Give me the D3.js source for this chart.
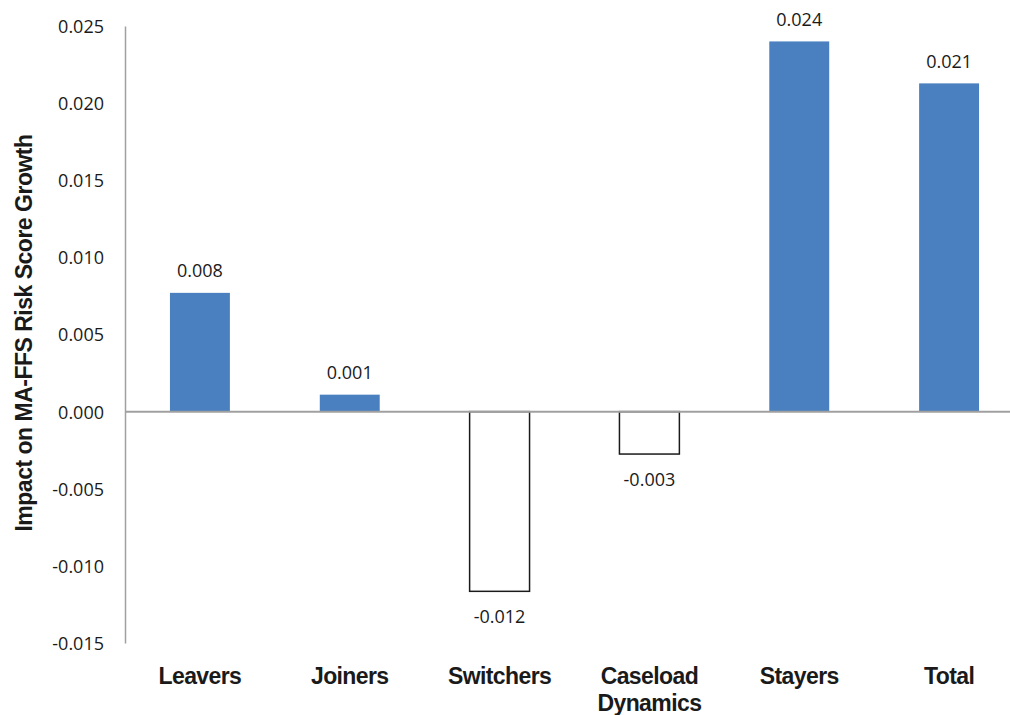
<!DOCTYPE html>
<html>
<head>
<meta charset="utf-8">
<script src="https://cdn.jsdelivr.net/npm/d3@7"></script>
<style>
  html, body { margin: 0; padding: 0; background: #fff; }
  svg { display: block; }
</style>
</head>
<body>
<svg id="chart" width="1010" height="715"></svg>
<script>
// Decomposition of MA-FFS risk score growth by component
const categories = ["Leavers", "Joiners", "Switchers", "Caseload Dynamics", "Stayers", "Total"];
const categoryLines = [["Leavers"], ["Joiners"], ["Switchers"], ["Caseload", "Dynamics"], ["Stayers"], ["Total"]];
const impacts = [0.0077, 0.0011, -0.01165, -0.00275, 0.0240, 0.02128];
const yTicks = [-0.015, -0.010, -0.005, 0.000, 0.005, 0.010, 0.015, 0.020, 0.025];
const yTitle = "Impact on MA-FFS Risk Score Growth";

const svg = d3.select("#chart");
const W = 1010;

const x = d3.scaleBand()
  .domain(categories)
  .range([125, 1024])
  .paddingInner(0.6)
  .paddingOuter(0.3);

const y = d3.scaleLinear()
  .domain([-0.015, 0.025])
  .range([643, 26]);

// plain hyphen for negative numbers
const locale = d3.formatLocale({ decimal: ".", thousands: ",", grouping: [3], currency: ["$", ""], minus: "-" });
const fmt = locale.format(".3f");

// value axis
const yAxis = svg.append("g")
  .attr("transform", "translate(125,0)")
  .call(d3.axisLeft(y).tickValues(yTicks).tickFormat(fmt).tickSize(0).tickPadding(21));
yAxis.select(".domain").attr("stroke", "#a0a0a0").attr("stroke-width", 1.5);
yAxis.selectAll("text")
  .attr("font-family", "'Open Sans', 'Noto Sans', sans-serif")
  .attr("font-size", 18)
  .attr("fill", "#1a1a1a")
  .attr("dy", "0.36em");

// bars
const bars = svg.append("g");
categories.forEach((c, i) => {
  const v = impacts[i];
  const y0 = y(Math.max(0, v));
  const h = Math.abs(y(v) - y(0));
  if (v >= 0) {
    bars.append("rect")
      .attr("x", x(c)).attr("y", y0)
      .attr("width", x.bandwidth()).attr("height", h)
      .attr("fill", "#4a80bf");
  } else {
    bars.append("rect")
      .attr("x", x(c)).attr("y", y0)
      .attr("width", x.bandwidth()).attr("height", h)
      .attr("fill", "#fff").attr("stroke", "#1a1a1a").attr("stroke-width", 1.5);
  }
});

// zero baseline
svg.append("line")
  .attr("x1", 125).attr("x2", W)
  .attr("y1", y(0)).attr("y2", y(0))
  .attr("stroke", "#a0a0a0").attr("stroke-width", 2);

// value labels
svg.append("g").selectAll("text")
  .data(categories)
  .join("text")
  .attr("x", c => x(c) + x.bandwidth() / 2)
  .attr("y", (c, i) => impacts[i] >= 0 ? y(impacts[i]) - 15.5 : y(impacts[i]) + 32)
  .attr("text-anchor", "middle")
  .attr("font-family", "'Open Sans', 'Noto Sans', sans-serif")
  .attr("font-size", 18)
  .attr("fill", "#1a1a1a")
  .text((c, i) => fmt(impacts[i]));

// category labels
const catG = svg.append("g");
categories.forEach((c, i) => {
  const t = catG.append("text")
    .attr("x", x(c) + x.bandwidth() / 2)
    .attr("y", 684)
    .attr("text-anchor", "middle")
    .attr("font-family", "'Liberation Sans', Arial, sans-serif")
    .attr("font-weight", "bold")
    .attr("font-size", 23)
    .attr("letter-spacing", "-0.6px")
    .attr("fill", "#1a1a1a");
  categoryLines[i].forEach((line, j) => {
    t.append("tspan")
      .attr("x", x(c) + x.bandwidth() / 2)
      .attr("dy", j === 0 ? 0 : 27)
      .text(line);
  });
});

// axis title
svg.append("text")
  .attr("transform", "translate(32,333) rotate(-90)")
  .attr("text-anchor", "middle")
  .attr("font-family", "'Liberation Sans', Arial, sans-serif")
  .attr("font-weight", "bold")
  .attr("font-size", 23)
  .attr("letter-spacing", "-0.5px")
  .attr("fill", "#1a1a1a")
  .text(yTitle);
</script>
</body>
</html>
